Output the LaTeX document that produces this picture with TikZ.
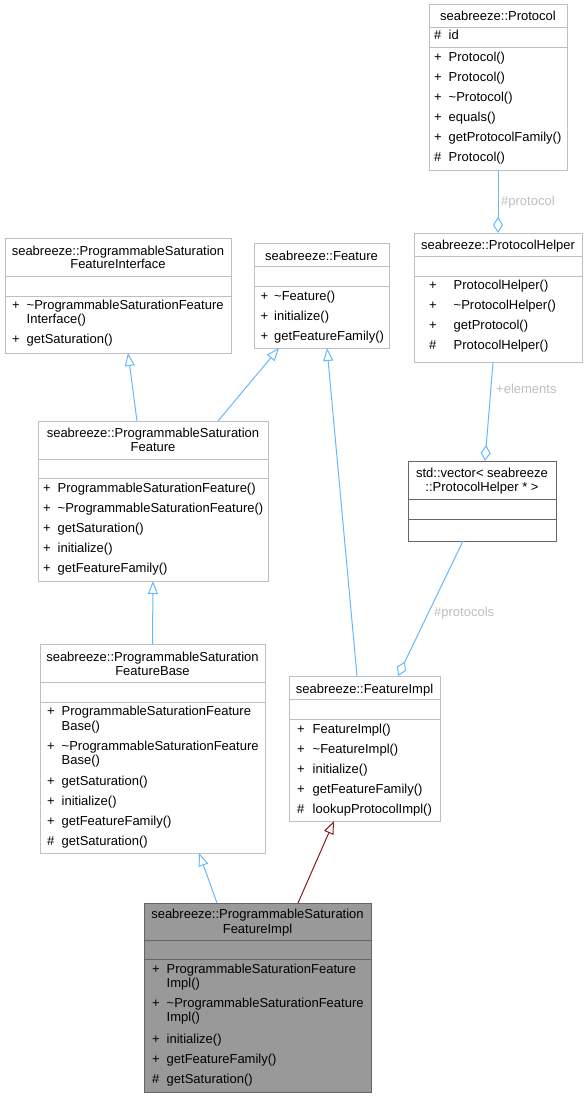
\documentclass[tikz,border=0pt]{standalone}
\usepackage{fontspec}
\setmainfont{Liberation Sans}
\usetikzlibrary{arrows.meta}
\definecolor{edgeblue}{HTML}{63B8FF}
\definecolor{edgered}{HTML}{8B1A1A}
\definecolor{boxgray}{HTML}{BFBFBF}
\definecolor{darkgray}{HTML}{666666}
\definecolor{fillgray}{HTML}{999999}
\definecolor{lblgray}{HTML}{BEBEBE}
\newcommand\dgfont{\fontsize{13}{15}\selectfont}
\begin{document}
\begin{tikzpicture}[x=1pt,y=-1pt,
  cls/.style={rectangle,draw=boxgray,line width=1pt,fill=white,inner sep=0pt,outer sep=0pt,anchor=north west},
  clsdark/.style={cls,draw=darkgray},
  clsfocus/.style={cls,draw=darkgray,fill=fillgray},
  div/.style={draw=boxgray,line width=1pt},
  divdark/.style={draw=darkgray,line width=1pt},
  ttl/.style={anchor=base,inner sep=0pt,font=\dgfont},
  sym/.style={anchor=base west,inner sep=0pt,font=\dgfont},
  mem/.style={anchor=base west,inner sep=0pt,font=\dgfont},
  lbl/.style={anchor=base west,inner sep=0pt,font=\dgfont,text=lblgray},
  inh/.style={draw=edgeblue,line width=1pt,-{Triangle[open,length=13pt,width=10pt]}},
  inhred/.style={inh,draw=edgered},
  agg/.style={draw=edgeblue,line width=1pt,-{Diamond[open,length=16pt,width=10pt]}}]
\useasboundingbox (0,0) rectangle (587,1097);

% ---- seabreeze::Protocol
\node[cls,minimum width=138pt,minimum height=165pt] (proto) at (429,5) {};
\draw[div] (429,28) -- (567,28);
\draw[div] (429,48) -- (567,48);
\node[ttl] (protoT) at (498,20.5) {seabreeze::Protocol};
\node[sym] (protoS0) at (434,40) {\#};   \node[mem] (protoM0) at (448.5,40) {id};
\node[sym] (protoS1) at (434,61.2) {+};  \node[mem] (protoM1) at (448.5,61.2) {Protocol()};
\node[sym] (protoS2) at (434,81.2) {+};  \node[mem] (protoM2) at (448.5,81.2) {Protocol()};
\node[sym] (protoS3) at (434,101.2) {+}; \node[mem] (protoM3) at (448.5,101.2) {\textasciitilde Protocol()};
\node[sym] (protoS4) at (434,121.2) {+}; \node[mem] (protoM4) at (448.5,121.2) {equals()};
\node[sym] (protoS5) at (434,141.2) {+}; \node[mem] (protoM5) at (448.5,141.2) {getProtocolFamily()};
\node[sym] (protoS6) at (434,161.2) {\#};\node[mem] (protoM6) at (448.5,161.2) {Protocol()};

% ---- seabreeze::ProtocolHelper
\node[cls,minimum width=168pt,minimum height=129pt] (phelp) at (414,233) {};
\draw[div] (414,256) -- (582,256);
\draw[div] (414,276) -- (582,276);
\node[ttl] (phelpT) at (498,249.5) {seabreeze::ProtocolHelper};
\node[sym] (phelpS1) at (429,289.5) {+};  \node[mem] (phelpM1) at (453.5,289.5) {ProtocolHelper()};
\node[sym] (phelpS2) at (429,309.5) {+};  \node[mem] (phelpM2) at (453.5,309.5) {\textasciitilde ProtocolHelper()};
\node[sym] (phelpS3) at (429,329.5) {+};  \node[mem] (phelpM3) at (453.5,329.5) {getProtocol()};
\node[sym] (phelpS4) at (429,349.5) {\#}; \node[mem] (phelpM4) at (453.5,349.5) {ProtocolHelper()};

% ---- seabreeze::Feature
\node[cls,minimum width=135pt,minimum height=105pt] (feat) at (254,243) {};
\draw[div] (254,266) -- (389,266);
\draw[div] (254,286) -- (389,286);
\node[ttl] (featT) at (321.5,260) {seabreeze::Feature};
\node[sym] (featS1) at (260.5,300.2) {+}; \node[mem] (featM1) at (274,300.2) {\textasciitilde Feature()};
\node[sym] (featS2) at (260.5,320.2) {+}; \node[mem] (featM2) at (274,320.2) {initialize()};
\node[sym] (featS3) at (260.5,340.2) {+}; \node[mem] (featM3) at (274,340.2) {getFeatureFamily()};

% ---- seabreeze::ProgrammableSaturationFeatureInterface
\node[cls,minimum width=226pt,minimum height=115pt] (psfi) at (5,238) {};
\draw[div] (5,276) -- (231,276);
\draw[div] (5,296) -- (231,296);
\node[ttl] (psfiT1) at (118,255.2) {seabreeze::ProgrammableSaturation};
\node[ttl] (psfiT2) at (118,268.8) {FeatureInterface};
\node[sym] (psfiS1) at (12,309.5) {+}; \node[mem] (psfiM1) at (26.5,309.5) {\textasciitilde ProgrammableSaturationFeature};
\node[mem] (psfiM1b) at (26.5,323.8) {Interface()};
\node[sym] (psfiS2) at (12,343.8) {+}; \node[mem] (psfiM2) at (26.5,343.8) {getSaturation()};

% ---- seabreeze::ProgrammableSaturationFeature
\node[cls,minimum width=230pt,minimum height=160pt] (psf) at (38,421) {};
\draw[div] (38,459) -- (268,459);
\draw[div] (38,478) -- (268,478);
\node[ttl] (psfT1) at (153,437.2) {seabreeze::ProgrammableSaturation};
\node[ttl] (psfT2) at (153,451.8) {Feature};
\node[sym] (psfS1) at (43,492.2) {+}; \node[mem] (psfM1) at (57.5,492.2) {ProgrammableSaturationFeature()};
\node[sym] (psfS2) at (43,512.2) {+}; \node[mem] (psfM2) at (57.5,512.2) {\textasciitilde ProgrammableSaturationFeature()};
\node[sym] (psfS3) at (43,532) {+};   \node[mem] (psfM3) at (57.5,532) {getSaturation()};
\node[sym] (psfS4) at (43,552) {+};   \node[mem] (psfM4) at (57.5,552) {initialize()};
\node[sym] (psfS5) at (43,572) {+};   \node[mem] (psfM5) at (57.5,572) {getFeatureFamily()};

% ---- seabreeze::ProgrammableSaturationFeatureBase
\node[cls,minimum width=225pt,minimum height=209pt] (psfb) at (40,644) {};
\draw[div] (40,682) -- (265,682);
\draw[div] (40,702) -- (265,702);
\node[ttl] (psfbT1) at (152.5,661.2) {seabreeze::ProgrammableSaturation};
\node[ttl] (psfbT2) at (152.5,675.2) {FeatureBase};
\node[sym] (psfbS1) at (47,715.2) {+}; \node[mem] (psfbM1) at (61.5,715.2) {ProgrammableSaturationFeature};
\node[mem] (psfbM1b) at (61.5,730.2) {Base()};
\node[sym] (psfbS2) at (47,750.5) {+}; \node[mem] (psfbM2) at (61.5,750.5) {\textasciitilde ProgrammableSaturationFeature};
\node[mem] (psfbM2b) at (61.5,764.5) {Base()};
\node[sym] (psfbS3) at (47,785.2) {+}; \node[mem] (psfbM3) at (61.5,785.2) {getSaturation()};
\node[sym] (psfbS4) at (47,805.2) {+}; \node[mem] (psfbM4) at (61.5,805.2) {initialize()};
\node[sym] (psfbS5) at (47,825.2) {+}; \node[mem] (psfbM5) at (61.5,825.2) {getFeatureFamily()};
\node[sym] (psfbS6) at (47,845.2) {\#};\node[mem] (psfbM6) at (61.5,845.2) {getSaturation()};

% ---- seabreeze::FeatureImpl
\node[cls,minimum width=151pt,minimum height=145pt] (fimpl) at (289,676) {};
\draw[div] (289,699) -- (440,699);
\draw[div] (289,719) -- (440,719);
\node[ttl] (fimplT) at (364.5,693.5) {seabreeze::FeatureImpl};
\node[sym] (fimplS1) at (297,733.5) {+}; \node[mem] (fimplM1) at (312.5,733.5) {FeatureImpl()};
\node[sym] (fimplS2) at (297,753.5) {+}; \node[mem] (fimplM2) at (312.5,753.5) {\textasciitilde FeatureImpl()};
\node[sym] (fimplS3) at (297,773.5) {+}; \node[mem] (fimplM3) at (312.5,773.5) {initialize()};
\node[sym] (fimplS4) at (297,793.5) {+}; \node[mem] (fimplM4) at (312.5,793.5) {getFeatureFamily()};
\node[sym] (fimplS5) at (297,813.2) {\#};\node[mem] (fimplM5) at (312.5,813.2) {lookupProtocolImpl()};

% ---- std::vector< seabreeze::ProtocolHelper * >
\node[clsdark,minimum width=148pt,minimum height=80pt] (vec) at (408,461) {};
\draw[divdark] (408,499) -- (556,499);
\draw[divdark] (408,519) -- (556,519);
\node[ttl] (vecT1) at (482,477.8) {std::vector< seabreeze};
\node[ttl] (vecT2) at (482,491.5) {::ProtocolHelper * >};

% ---- seabreeze::ProgrammableSaturationFeatureImpl
\node[clsfocus,minimum width=227pt,minimum height=189pt] (psfimpl) at (144,903) {};
\draw[divdark] (144,940) -- (371,940);
\draw[divdark] (144,959) -- (371,959);
\node[ttl] (psfimplT1) at (257.5,918.8) {seabreeze::ProgrammableSaturation};
\node[ttl] (psfimplT2) at (257.5,933.5) {FeatureImpl};
\node[sym] (psfimplS1) at (152,973.5) {+}; \node[mem] (psfimplM1) at (166.5,973.5) {ProgrammableSaturationFeature};
\node[mem] (psfimplM1b) at (166.5,987.8) {Impl()};
\node[sym] (psfimplS2) at (152,1007.8) {+}; \node[mem] (psfimplM2) at (166.5,1007.8) {\textasciitilde ProgrammableSaturationFeature};
\node[mem] (psfimplM2b) at (166.5,1021.8) {Impl()};
\node[sym] (psfimplS3) at (152,1043.5) {+}; \node[mem] (psfimplM3) at (166.5,1043.5) {initialize()};
\node[sym] (psfimplS4) at (152,1063.2) {+}; \node[mem] (psfimplM4) at (166.5,1063.2) {getFeatureFamily()};
\node[sym] (psfimplS5) at (152,1083.2) {\#};\node[mem] (psfimplM5) at (166.5,1083.2) {getSaturation()};

% ---- connectors
\draw[inh] ([xshift=-16pt]psf.north) -- ([xshift=10pt]psfi.south);
\draw[inh] ([xshift=65pt]psf.north) -- ([xshift=-42.5pt]feat.south);
\draw[inh] (psfb.north) -- (psf.south);
\draw[inh] ([xshift=-7.5pt]fimpl.north) -- ([xshift=5.5pt]feat.south);
\draw[inh] ([xshift=-40.5pt]psfimpl.north) -- ([xshift=46.5pt]psfb.south);
\draw[inhred] ([xshift=40.5pt]psfimpl.north) -- ([xshift=-30.5pt]fimpl.south);
\draw[agg] (proto.south) -- (phelp.north);
\draw[agg] ([xshift=-5pt]phelp.south) -- ([xshift=3pt]vec.north);
\draw[agg] ([xshift=-19pt]vec.south) -- ([xshift=33.5pt]fimpl.north);

% ---- connector labels
\node[lbl] (lblProtocol) at (501,205.5) {\#protocol};
\node[lbl] (lblElements) at (496,393.5) {+elements};
\node[lbl] (lblProtocols) at (434,616) {\#protocols};
\end{tikzpicture}
\end{document}
